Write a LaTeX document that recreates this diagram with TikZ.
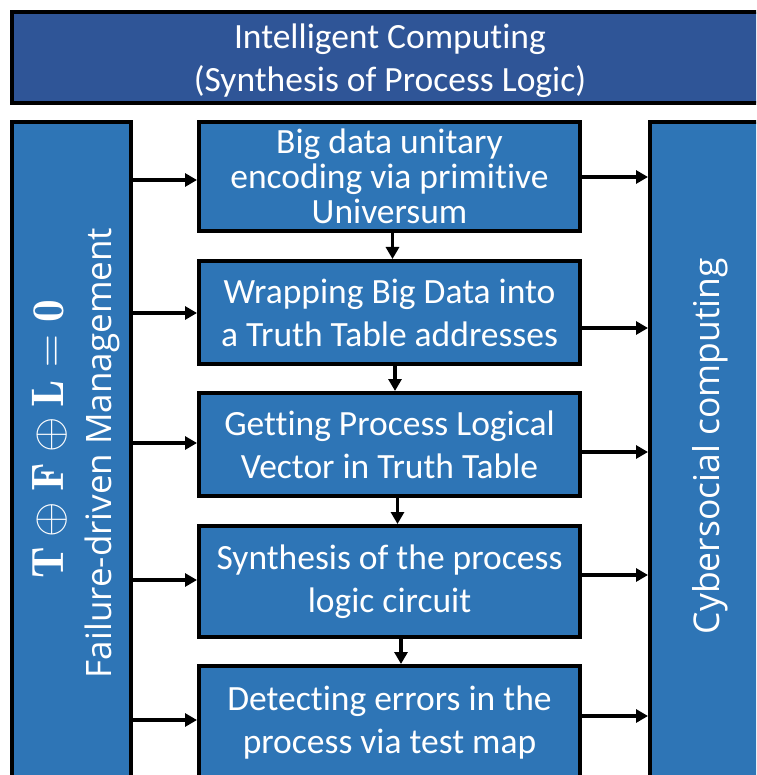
\RequirePackage{fix-cm}
\documentclass[tikz,border=0pt]{standalone}
\usepackage{fontspec}
\newfontfamily\boxfont[Ligatures=NoCommon]{Carlito}
\newfontfamily\sidefont{Open Sans}
\usetikzlibrary{arrows.meta,calc}
\definecolor{topblue}{HTML}{2F5597}
\definecolor{boxblue}{HTML}{2E75B6}
\begin{document}
\begin{tikzpicture}[x=1pt,y=-1pt,
  box/.style={draw=black, line width=4pt, fill=boxblue, text=white, align=center, inner sep=0pt},
  boxtxt/.style={font=\boxfont\fontsize{35.5}{43}\selectfont},
  sidetxt/.style={text=white, rotate=90, anchor=base, inner sep=0pt},
  arr/.style={line width=3.5pt, draw=black, -{Triangle[length=12pt,width=13pt]}}]
\useasboundingbox (0,0) rectangle (756,775);
\clip (0,0) rectangle (756,775);
\fill[white] (0,0) rectangle (756,775);

% top banner
\node[box, fill=topblue, minimum width=760pt, minimum height=91pt] (top) at (392,57.5) {};
\node[boxtxt, text=white, align=center, inner sep=0pt] (toptxt) at (390,61)
  {Intelligent Computing\\(Synthesis of Process Logic)};

% side columns
\node[box, minimum width=119pt, minimum height=668pt] (lbox) at (71.5,456) {};
\node[box, minimum width=122pt, minimum height=668pt] (rbox) at (711,456) {};

\node[sidetxt, font=\fontsize{45.5}{54}\selectfont] (eq) at (63,439)
  {$\mathbf{T}\oplus\mathbf{F}\oplus\mathbf{L}=\mathbf{0}$};
\node[sidetxt, font=\sidefont\fontsize{35}{42}\selectfont] (fdm) at (111,453)
  {Failure-driven Management};
\node[sidetxt, font=\sidefont\fontsize{35.5}{42}\selectfont] (cyb) at (719,446)
  {Cybersocial computing};

% middle process boxes
\node[box, font=\boxfont\fontsize{35.5}{35}\selectfont, minimum width=381pt, minimum height=109pt] (b1) at (389.5,176.5)
  {Big data unitary\\encoding via primitive\\Universum};
\node[box, boxtxt, minimum width=381pt, minimum height=103pt] (b2) at (389.5,312.5)
  {Wrapping Big Data into\\a Truth Table addresses};
\node[box, boxtxt, minimum width=381pt, minimum height=103pt] (b3) at (389.5,444.5)
  {Getting Process Logical\\Vector in Truth Table};
\node[box, boxtxt, minimum width=381pt, minimum height=111pt] (b4) at (389.5,581.5)
  {Synthesis of the process\\logic circuit};
\node[box, boxtxt, minimum width=381pt, minimum height=113pt] (b5) at (389.5,722.5)
  {Detecting errors in the\\process via test map};

% vertical arrows
\coordinate (d1) at ($(b1.south)+(3,0)$);
\coordinate (d2) at ($(b2.south)+(5.5,0)$);
\coordinate (d3) at ($(b3.south)+(8,0)$);
\coordinate (d4) at ($(b4.south)+(11.5,0)$);
\draw[arr] (d1) -- (d1 |- b2.north);
\draw[arr] (d2) -- (d2 |- b3.north);
\draw[arr] (d3) -- (d3 |- b4.north);
\draw[arr] (d4) -- (d4 |- b5.north);

% left arrows
\coordinate (la1) at ($(b1.west)+(0,3.5)$);
\coordinate (la2) at ($(b2.west)+(0,0.5)$);
\coordinate (la3) at ($(b3.west)+(0,-1.5)$);
\coordinate (la4) at ($(b4.west)+(0,-1.5)$);
\coordinate (la5) at ($(b5.west)+(0,-2.5)$);
\foreach \c in {la1,la2,la3,la4,la5}
  \draw[arr] (\c -| lbox.east) -- (\c);

% right arrows
\coordinate (ra1) at ($(b1.east)+(0,0.5)$);
\coordinate (ra2) at ($(b2.east)+(0,15.5)$);
\coordinate (ra3) at ($(b3.east)+(0,7.5)$);
\coordinate (ra4) at ($(b4.east)+(0,-6.5)$);
\coordinate (ra5) at ($(b5.east)+(0,-6.5)$);
\foreach \c in {ra1,ra2,ra3,ra4,ra5}
  \draw[arr] (\c) -- (\c -| rbox.west);
\end{tikzpicture}
\end{document}
